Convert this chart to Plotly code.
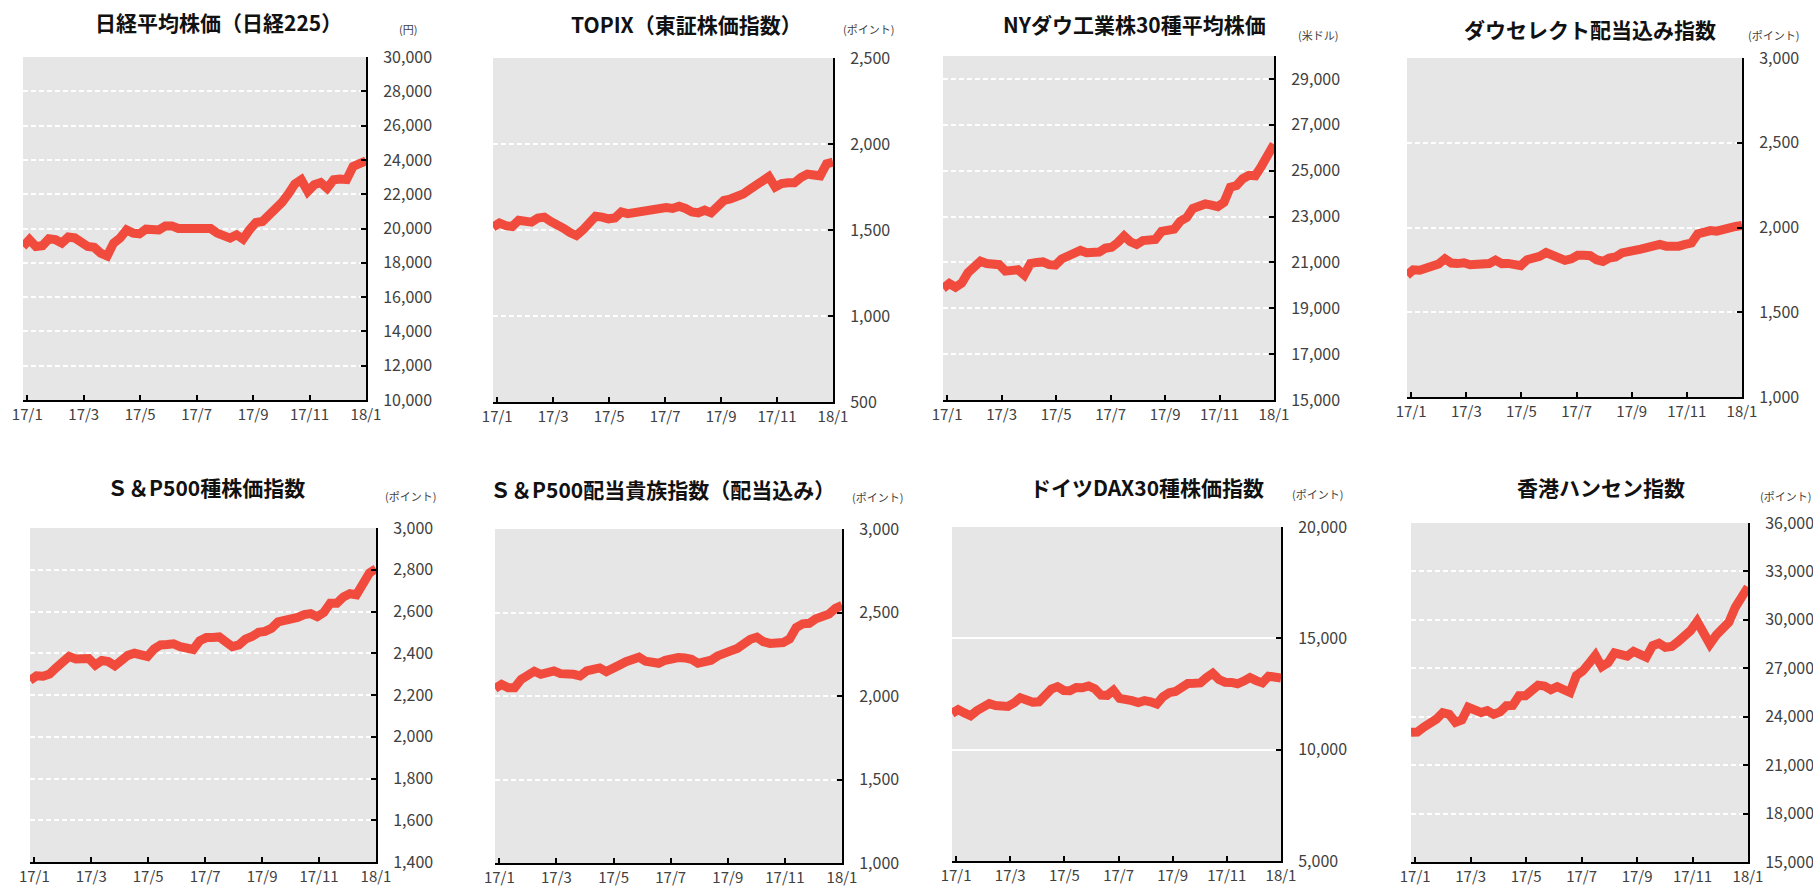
import plotly.graph_objects as go
import pandas as pd

# ---- data (weekly readings, 2017-01-20 .. 2018-01-19 approx.) ----
dates = pd.date_range("2017-01-20", periods=54, freq="7D")
x_tick_labels = ["17/1", "17/3", "17/5", "17/7", "17/9", "17/11", "18/1"]

nikkei = [18950, 19350, 18950, 19000, 19400, 19350, 19150, 19500, 19450, 19240,
          18950, 18900, 18560, 18400, 19150, 19440, 19920, 19730, 19690, 19960,
          19950, 19920, 20150, 20150, 20000, 20000, 20120, 20020, 20050, 20000,
          19730, 19570, 19440, 19630, 19380, 19920, 20350, 20410, 20740, 21130,
          21520, 22020, 22590, 22840, 22160, 22550, 22680, 22350, 22840, 22880,
          22850, 23620, 23810, 23950]
topix = [1517, 1540, 1525, 1520, 1556, 1556, 1546, 1570, 1575, 1550,
         1535, 1510, 1485, 1468, 1500, 1545, 1580, 1575, 1565, 1570,
         1605, 1595, 1600, 1617, 1620, 1615, 1628, 1630, 1625, 1638,
         1625, 1605, 1600, 1615, 1600, 1645, 1672, 1680, 1690, 1710,
         1735, 1765, 1785, 1810, 1750, 1770, 1775, 1775, 1805, 1825,
         1820, 1815, 1885, 1895]
dow = [19870, 20080, 19920, 20100, 20550, 20820, 21050, 20950, 20950, 20900,
       20620, 20700, 20680, 20450, 20950, 21000, 21020, 20900, 20880, 21150,
       21250, 21350, 21520, 21420, 21400, 21450, 21620, 21660, 21870, 22150,
       21900, 21780, 21950, 21950, 22000, 22350, 22420, 22450, 22800, 22950,
       23350, 23480, 23550, 23500, 23430, 23620, 24280, 24350, 24650, 24800,
       24780, 25200, 25700, 26150]
dowselect = [1718, 1750, 1748, 1757, 1775, 1785, 1815, 1790, 1787, 1792,
             1780, 1784, 1792, 1787, 1808, 1787, 1788, 1780, 1775, 1810,
             1816, 1830, 1852, 1836, 1826, 1806, 1815, 1836, 1836, 1834,
             1810, 1800, 1820, 1826, 1850, 1862, 1865, 1872, 1882, 1890,
             1900, 1890, 1888, 1890, 1900, 1908, 1962, 1972, 1982, 1978,
             1983, 1993, 2006, 2013]
sp500 = [2270, 2292, 2290, 2300, 2330, 2352, 2385, 2373, 2372, 2375,
         2343, 2365, 2360, 2340, 2365, 2390, 2400, 2395, 2385, 2420,
         2440, 2442, 2445, 2432, 2428, 2418, 2460, 2475, 2475, 2478,
         2455, 2432, 2440, 2468, 2480, 2500, 2505, 2520, 2550, 2555,
         2570, 2572, 2585, 2590, 2575, 2595, 2640, 2640, 2670, 2685,
         2680, 2740, 2785, 2805]
aristocrats = [2045, 2069, 2050, 2050, 2100, 2130, 2148, 2130, 2145, 2150,
               2134, 2134, 2130, 2120, 2150, 2160, 2168, 2146, 2160, 2185,
               2205, 2218, 2232, 2208, 2205, 2196, 2214, 2228, 2230, 2228,
               2220, 2196, 2200, 2214, 2240, 2262, 2270, 2285, 2315, 2340,
               2352, 2325, 2315, 2322, 2320, 2342, 2410, 2432, 2435, 2462,
               2472, 2490, 2525, 2542]
dax = [11630, 11800, 11650, 11520, 11750, 11900, 12070, 11980, 12000, 11940,
       12100, 12330, 12230, 12130, 12150, 12500, 12720, 12830, 12660, 12650,
       12790, 12780, 12860, 12740, 12450, 12440, 12660, 12300, 12200, 12200,
       12120, 12200, 12150, 12050, 12380, 12560, 12610, 12850, 12970, 12980,
       13000, 13240, 13430, 13150, 13030, 13020, 12960, 13080, 13240, 13100,
       13000, 13300, 13250, 13220]
hangseng = [23030, 23050, 23350, 23550, 23850, 24250, 24150, 23650, 23800, 24580,
            24350, 24260, 24380, 24150, 24300, 24680, 24700, 25300, 25300, 25650,
            25950, 25900, 25680, 25860, 25750, 25500, 26550, 26830, 27300, 27800,
            27100, 27350, 27950, 27850, 27750, 28050, 27900, 27690, 28400, 28550,
            28300, 28350, 28650, 29000, 29350, 29900, 29150, 28500, 29050, 29500,
            29850, 30780, 31400, 32030]

titles = ["日経平均株価（日経225）", "TOPIX（東証株価指数）", "NYダウ工業株30種平均株価",
          "ダウセレクト配当込み指数", "Ｓ＆P500種株価指数", "Ｓ＆P500配当貴族指数（配当込み）",
          "ドイツDAX30種株価指数", "香港ハンセン指数"]
units = ["(円)", "(ポイント)", "(米ドル)", "(ポイント)", "(ポイント)", "(ポイント)", "(ポイント)", "(ポイント)"]
series = [nikkei, topix, dow, dowselect, sp500, aristocrats, dax, hangseng]

# ---- layout / styling ----
W, H = 1813, 888
rects = [(23, 57, 366, 400), (493, 58, 833, 402), (943, 56, 1274, 400), (1407, 58, 1742, 397),
         (30, 528, 376, 862), (495, 529, 842, 863), (952, 527, 1281, 861), (1411, 523, 1748, 862)]
yranges = [(10000, 30000, 2000), (500, 2500, 500), (15000, 30000, 2000), (1000, 3000, 500),
           (1400, 3000, 200), (1000, 3000, 500), (5000, 20000, 5000), (15000, 36000, 3000)]
title_pos = [(218, 22), (686, 24), (1134, 24), (1590, 29), (206, 487), (662, 489), (1147, 487), (1601, 487)]
unit_pos = [(408, 29), (868, 29), (1318, 35), (1773, 35), (410, 496), (877, 497), (1317, 494), (1785, 496)]
solid_grid = [False, False, False, False, False, False, True, False]

LINE = "#F04B3C"
FONT = "Noto Sans CJK JP"
TICKC = "#404040"

x0d, x1d = dates[0], dates[-1]
span = x1d - x0d
tick_fracs = [0.0125 + i * (0.9875 / 6) for i in range(7)]
tickvals = [x0d + span * f for f in tick_fracs]

fig = go.Figure()
annotations = []
layout = {}
for i in range(8):
    n = i + 1
    xa = "x" if n == 1 else f"x{n}"
    ya = "y" if n == 1 else f"y{n}"
    fig.add_trace(go.Scatter(x=list(dates), y=series[i], mode="lines", xaxis=xa, yaxis=ya,
                             line=dict(color=LINE, width=9), showlegend=False, hoverinfo="skip"))
    l, t, r, b = rects[i]
    lo, hi, dt = yranges[i]
    layout[f"xaxis{n}"] = dict(
        domain=[l / W, r / W], anchor=ya, range=[x0d, x1d], automargin=False,
        tickmode="array", tickvals=tickvals, ticktext=x_tick_labels,
        ticks="inside", ticklen=5, tickwidth=1.5, tickcolor="black",
        showline=True, linecolor="black", linewidth=2,
        showgrid=False, zeroline=False, ticklabelstandoff=0,
        tickfont=dict(family=FONT, size=15, color=TICKC), fixedrange=True)
    layout[f"yaxis{n}"] = dict(
        domain=[1 - b / H, 1 - t / H], anchor=xa, side="right", range=[lo, hi], automargin=False,
        tick0=lo, dtick=dt, tickformat=",d",
        ticks="inside", ticklen=5, tickwidth=1.5, tickcolor="black",
        showline=True, linecolor="black", linewidth=2,
        showgrid=True, gridcolor="white", gridwidth=1.5,
        griddash="solid" if solid_grid[i] else "5px,3px",
        zeroline=False, ticklabelstandoff=12,
        tickfont=dict(family=FONT, size=16, color=TICKC), fixedrange=True)
    tx, ty = title_pos[i]
    annotations.append(dict(text=f"<b>{titles[i]}</b>", x=tx / W, y=1 - ty / H, xref="paper", yref="paper",
                            xanchor="center", yanchor="middle", showarrow=False,
                            font=dict(family=FONT, size=21, color="#111111")))
    ux, uy = unit_pos[i]
    annotations.append(dict(text=units[i], x=ux / W, y=1 - uy / H, xref="paper", yref="paper",
                            xanchor="center", yanchor="middle", showarrow=False,
                            font=dict(family=FONT, size=11, color=TICKC)))

fig.update_layout(**layout)
fig.update_layout(width=W, height=H, margin=dict(l=0, r=0, t=0, b=0, autoexpand=False),
                  paper_bgcolor="white", plot_bgcolor="#E6E6E6",
                  annotations=annotations, showlegend=False)

fig.write_html("out.html", config={"displayModeBar": False},
               post_script="document.body.style.margin='0';")
